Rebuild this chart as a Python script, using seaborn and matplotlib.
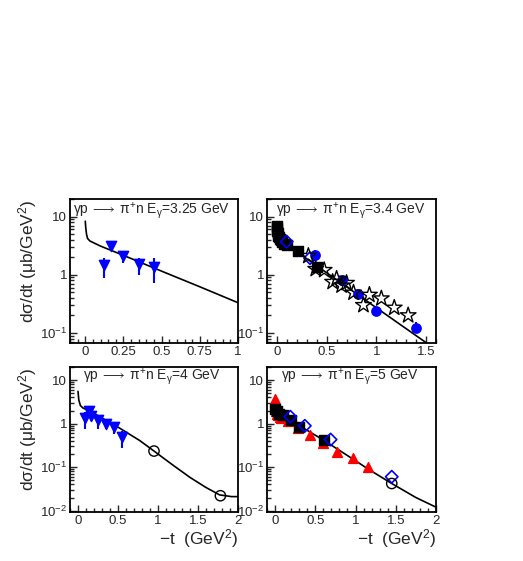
import matplotlib
matplotlib.use("Agg")
import matplotlib.pyplot as plt
import seaborn as sns
from matplotlib.ticker import MultipleLocator, LogLocator, FixedLocator, NullFormatter

sns.set_style("ticks")
plt.rcParams['font.family'] = ['Liberation Sans', 'DejaVu Sans']
plt.rcParams['mathtext.default'] = 'regular'

# --- E = 3.25 GeV ---
e325_tri_t = [0.12, 0.17, 0.245, 0.35, 0.45]
e325_tri_y = [1.45, 3.1, 2.1, 1.5, 1.38]
e325_tri_lo = [0.87, 2.7, 1.6, 1.0, 0.72]
e325_tri_hi = [1.92, 3.6, 2.6, 1.9, 1.92]
e325_curve_t = [0.0, 0.003, 0.008, 0.015, 0.03, 0.1, 0.25, 0.5, 0.75, 1.0]
e325_curve_y = [8.3, 6.5, 5.0, 4.2, 3.8, 3.1, 2.15, 1.15, 0.62, 0.33]

# --- E = 3.4 GeV ---
e34_sq_t = [0.0, 0.0, 0.005, 0.01, 0.01, 0.02, 0.03, 0.04, 0.05, 0.07, 0.1, 0.21, 0.4]
e34_sq_y = [7.0, 6.3, 5.7, 5.2, 4.7, 4.4, 4.1, 3.9, 3.7, 3.4, 3.3, 2.6, 1.35]
e34_dia_t = [0.098, 0.333]
e34_dia_y = [3.7, 1.93]
e34_circ_t = [0.385, 0.65, 0.82, 1.0, 1.40]
e34_circ_y = [2.2, 0.82, 0.46, 0.235, 0.123]
e34_circ_lo = [1.73, 0.72, 0.40, 0.205, 0.104]
e34_circ_hi = [2.65, 0.92, 0.52, 0.27, 0.153]
e34_star_t = [0.316, 0.39, 0.475, 0.56, 0.60, 0.65, 0.70, 0.77, 0.87, 0.93, 1.05, 1.18, 1.32]
e34_star_y = [2.1, 1.25, 1.2, 0.75, 0.85, 0.65, 0.72, 0.49, 0.30, 0.45, 0.39, 0.27, 0.20]
e34_curve_t = [0.0, 0.5, 1.0, 1.5]
e34_curve_y = [4.3, 1.08, 0.27, 0.068]

# --- E = 4 GeV ---
e4_tri_t = [0.084, 0.134, 0.167, 0.25, 0.35, 0.45, 0.55]
e4_tri_y = [1.32, 1.95, 1.52, 1.2, 1.0, 0.84, 0.49]
e4_tri_lo = [0.77, 1.58, 1.14, 0.77, 0.77, 0.59, 0.27]
e4_tri_hi = [1.88, 2.25, 1.88, 1.52, 1.27, 1.0, 0.67]
e4_circ_t = [0.95, 1.78]
e4_circ_y = [0.234, 0.022]
e4_curve_t = [0.0, 0.01, 0.03, 0.06, 0.2, 0.5, 0.77, 0.95, 1.19, 1.4, 1.6, 1.77, 1.92, 2.0]
e4_curve_y = [5.5, 3.5, 2.6, 2.3, 1.72, 0.83, 0.41, 0.234, 0.11, 0.058, 0.034, 0.023, 0.021, 0.021]

# --- E = 5 GeV ---
e5_tri_t = [0.0, 0.0, 0.005, 0.01, 0.0, 0.015, 0.02, 0.03, 0.04, 0.06, 0.08, 0.16, 0.29, 0.43, 0.60, 0.77, 0.965, 1.15]
e5_tri_y = [3.6, 3.1, 2.8, 2.5, 2.2, 2.0, 1.9, 1.7, 1.6, 1.45, 1.35, 1.15, 0.78, 0.56, 0.36, 0.22, 0.165, 0.10]
e5_sq_t = [0.0, 0.02, 0.05, 0.1, 0.2, 0.3, 0.61]
e5_sq_y = [2.2, 1.9, 1.7, 1.55, 1.2, 0.84, 0.41]
e5_dia_t = [0.19, 0.37, 0.69, 1.45]
e5_dia_y = [1.44, 0.89, 0.43, 0.06]
e5_circ_t = [1.45]
e5_circ_y = [0.042]
e5_curve_t = [0.0, 0.01, 0.03, 0.06, 0.1, 0.3, 0.6, 1.0, 1.15, 1.45, 1.75, 2.0]
e5_curve_y = [3.3, 2.6, 2.0, 1.75, 1.55, 0.9, 0.42, 0.14, 0.092, 0.042, 0.02, 0.012]

fig = plt.figure(figsize=(5.23, 5.61), dpi=100)
W, H = 523, 561


def make_ax(x0, y0, x1, y1):
    return fig.add_axes([x0 / W, 1 - y1 / H, (x1 - x0) / W, (y1 - y0) / H])


ax1 = make_ax(70, 199, 238, 343)
ax2 = make_ax(267, 199, 436, 343)
ax3 = make_ax(70, 367, 238, 512)
ax4 = make_ax(267, 367, 436, 512)


def pts(ax, t, y, marker, color, s=50, filled=True, lw=1.0):
    sns.scatterplot(x=t, y=y, marker=marker, color=color, s=s, ax=ax,
                    edgecolor=color, linewidth=lw, zorder=3)
    if not filled:
        ax.collections[-1].set_facecolor('none')


def curve(ax, t, y):
    sns.lineplot(x=t, y=y, color='black', lw=1.2, ax=ax, sort=False,
                 estimator=None, zorder=2)


def style(ax, xlim, ylim, major, minor, yticks, ylabels, energy, tx, ty):
    ax.set_yscale('log')
    ax.set_xlim(*xlim)
    ax.set_ylim(*ylim)
    ax.xaxis.set_major_locator(MultipleLocator(major))
    ax.xaxis.set_minor_locator(MultipleLocator(minor))
    ax.yaxis.set_major_locator(FixedLocator(yticks))
    ax.set_yticklabels(ylabels)
    ax.yaxis.set_minor_locator(LogLocator(base=10, subs=range(2, 10)))
    ax.yaxis.set_minor_formatter(NullFormatter())
    ax.xaxis.set_major_formatter(plt.FuncFormatter(lambda v, p: ('%g' % v)))
    ax.tick_params(which='both', direction='in', top=False, right=False,
                   labelsize=9.5, width=1.0, pad=2)
    ax.tick_params(which='major', length=5)
    ax.tick_params(which='minor', length=3)
    for sp in ax.spines.values():
        sp.set_visible(True)
        sp.set_linewidth(1.3)
        sp.set_color('black')
    ax.set_xlabel('')
    ax.set_ylabel('')
    title = 'γp$\\,\\longrightarrow\\,$π$^{+}$n E$_{γ}$=' + energy + ' GeV'
    ax.text(tx, ty, title, transform=ax.transAxes, fontsize=10,
            ha='left', va='center')


# panel 1
ax1.vlines(e325_tri_t, e325_tri_lo, e325_tri_hi, color='blue', lw=1.5)
pts(ax1, e325_tri_t, e325_tri_y, 'v', 'blue', s=55)
curve(ax1, e325_curve_t, e325_curve_y)
style(ax1, (-0.1, 1.0), (0.067, 20), 0.25, 0.05, [0.1, 1, 10],
      ['$10^{-1}$', '1', '10'], '3.25', 0.02, 0.915)

# panel 2
curve(ax2, e34_curve_t, e34_curve_y)
pts(ax2, e34_sq_t, e34_sq_y, 's', 'black', s=45)
ax2.vlines(e34_circ_t, e34_circ_lo, e34_circ_hi, color='blue', lw=1.5)
pts(ax2, e34_circ_t, e34_circ_y, 'o', 'blue', s=45)
pts(ax2, e34_dia_t, e34_dia_y, 'D', 'blue', s=40, filled=False, lw=1.2)
pts(ax2, e34_star_t, e34_star_y, '*', 'black', s=140, filled=False, lw=1.0)
style(ax2, (-0.1, 1.6), (0.067, 20), 0.5, 0.1, [0.1, 1, 10],
      ['$10^{-1}$', '1', '10'], '3.4', 0.055, 0.92)

# panel 3
ax3.vlines(e4_tri_t, e4_tri_lo, e4_tri_hi, color='blue', lw=1.5)
pts(ax3, e4_tri_t, e4_tri_y, 'v', 'blue', s=55)
curve(ax3, e4_curve_t, e4_curve_y)
pts(ax3, e4_circ_t, e4_circ_y, 'o', 'black', s=55, filled=False, lw=1.0)
style(ax3, (-0.1, 2.0), (0.0093, 20), 0.5, 0.1, [0.01, 0.1, 1, 10],
      ['$10^{-2}$', '$10^{-1}$', '1', '10'], '4', 0.08, 0.93)

# panel 4
pts(ax4, e5_tri_t, e5_tri_y, '^', 'red', s=50)
pts(ax4, e5_sq_t, e5_sq_y, 's', 'black', s=45)
curve(ax4, e5_curve_t, e5_curve_y)
pts(ax4, e5_dia_t, e5_dia_y, 'D', 'blue', s=40, filled=False, lw=1.2)
pts(ax4, e5_circ_t, e5_circ_y, 'o', 'black', s=55, filled=False, lw=1.0)
style(ax4, (-0.1, 2.0), (0.0093, 20), 0.5, 0.1, [0.01, 0.1, 1, 10],
      ['$10^{-2}$', '$10^{-1}$', '1', '10'], '5', 0.085, 0.93)

# axis titles
for ytop in (199, 367):
    fig.text(28 / W, 1 - ytop / H, r'd$\sigma$/dt ($\mu$b/GeV$^{2}$)',
             rotation=90, ha='center', va='top', fontsize=12.5)
for xr in (238, 436):
    fig.text(xr / W, 1 - 539 / H, '$-$t  (GeV$^{2}$)', ha='right',
             va='center', fontsize=12.5)

fig.savefig("out.png", dpi=100)
